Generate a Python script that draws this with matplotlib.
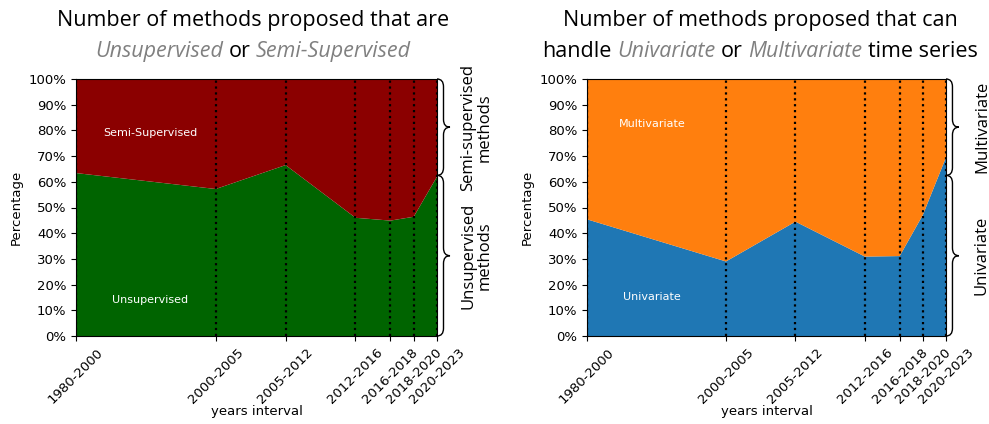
import numpy as np
import matplotlib
matplotlib.use("Agg")
import matplotlib.pyplot as plt
from matplotlib.path import Path
from matplotlib.patches import PathPatch
from matplotlib.ticker import FuncFormatter

# data
intervals = ["1980-2000", "2000-2005", "2005-2012", "2012-2016",
             "2016-2018", "2018-2020", "2020-2023"]
x_pos = [0, 12, 18, 24, 27, 29, 31]

unsupervised = [63.4, 57.2, 66.5, 46.0, 44.9, 46.4, 62.0]
semi_supervised = [100 - v for v in unsupervised]

univariate = [45.4, 29.0, 44.5, 30.9, 31.1, 47.1, 69.5]
multivariate = [100 - v for v in univariate]

brace_split = 62.5

TITLE_FONT = "Open Sans"
GRAY = "#808080"


def draw_brace(ax, y_lo, y_hi, width=0.036, r=0.03):
    """Draw a '}' brace just right of the axes, y given in data units (0-100)."""
    yb, yt = y_lo / 100.0, y_hi / 100.0
    ym = (yb + yt) / 2
    x0 = 1.0
    h = width / 2
    verts = [(x0, yb),
             (x0 + h, yb), (x0 + h, yb + r),
             (x0 + h, ym - r),
             (x0 + h, ym), (x0 + width, ym),
             (x0 + h, ym), (x0 + h, ym + r),
             (x0 + h, yt - r),
             (x0 + h, yt), (x0, yt)]
    codes = [Path.MOVETO,
             Path.CURVE3, Path.CURVE3,
             Path.LINETO,
             Path.CURVE3, Path.CURVE3,
             Path.CURVE3, Path.CURVE3,
             Path.LINETO,
             Path.CURVE3, Path.CURVE3]
    patch = PathPatch(Path(verts, codes), fill=False, lw=1.0, ec="black",
                      transform=ax.transAxes, clip_on=False)
    ax.add_patch(patch)


def rich_line(fig, pieces, cx, y, size):
    """Centered line of text made of pieces with their own style/colour."""
    renderer = fig.canvas.get_renderer()
    texts = []
    for s, style, color in pieces:
        t = fig.text(0, y, s, fontsize=size, family=TITLE_FONT, style=style,
                     color=color, ha="left", va="baseline",
                     transform=fig.transFigure)
        texts.append(t)
    widths = [t.get_window_extent(renderer).width for t in texts]
    space = fig.text(0, 0, "a a", fontsize=size, family=TITLE_FONT)
    sp = space.get_window_extent(renderer).width
    space.set_text("aa")
    sp -= space.get_window_extent(renderer).width
    space.remove()
    W = fig.bbox.width
    total = sum(widths) + sp * (len(texts) - 1)
    x = cx * W - total / 2
    for t, w in zip(texts, widths):
        t.set_x(x / W)
        x += w + sp


def stacked_panel(ax, lower, upper, c_low, c_up, lab_low, lab_up, lab_pos):
    ax.stackplot(x_pos, lower, upper, colors=[c_low, c_up])
    for xp in x_pos:
        ax.axvline(xp, color="black", ls=":", lw=1.6, zorder=3)
    ax.set_xlim(x_pos[0], x_pos[-1])
    ax.set_ylim(0, 100)
    ax.set_yticks(np.arange(0, 101, 10))
    ax.yaxis.set_major_formatter(FuncFormatter(lambda v, p: f"{int(v)}%"))
    ax.set_xticks(x_pos)
    ax.set_xticklabels(intervals, rotation=45)
    ax.tick_params(labelsize=9.5)
    ax.set_ylabel("Percentage", fontsize=9.5)
    ax.set_xlabel("years interval", fontsize=9.5, labelpad=-1)
    (xl, yl), (xu, yu) = lab_pos
    ax.text(xl, yl, lab_low, color="white", fontsize=8, ha="center", va="center")
    ax.text(xu, yu, lab_up, color="white", fontsize=8, ha="center", va="center")


fig = plt.figure(figsize=(9.89, 4.24), dpi=100)
ax1 = fig.add_axes([76 / 989, 88 / 424, 361 / 989, 257 / 424])
ax2 = fig.add_axes([587 / 989, 88 / 424, 359 / 989, 257 / 424])

stacked_panel(ax1, unsupervised, semi_supervised, "#006400", "#8b0000",
              "Unsupervised", "Semi-Supervised", [(6.35, 14), (6.35, 79)])
stacked_panel(ax2, univariate, multivariate, "#1f77b4", "#ff7f0e",
              "Univariate", "Multivariate", [(5.6, 15.2), (5.6, 82.5)])

for ax in (ax1, ax2):
    draw_brace(ax, 0, brace_split)
    draw_brace(ax, brace_split, 100)

brace_fs = 12
ax1.text(1.11, brace_split / 200, "Unsupervised\nmethods", rotation=90,
         transform=ax1.transAxes, ha="center", va="center", fontsize=brace_fs,
         family=TITLE_FONT, linespacing=1.05)
ax1.text(1.11, (brace_split + 100) / 200, "Semi-supervised\nmethods", rotation=90,
         transform=ax1.transAxes, ha="center", va="center", fontsize=brace_fs,
         family=TITLE_FONT, linespacing=1.05)
ax2.text(1.10, brace_split / 200, "Univariate", rotation=90,
         transform=ax2.transAxes, ha="center", va="center", fontsize=brace_fs,
         family=TITLE_FONT)
ax2.text(1.10, (brace_split + 100) / 200, "Multivariate", rotation=90,
         transform=ax2.transAxes, ha="center", va="center", fontsize=brace_fs,
         family=TITLE_FONT)

fig.canvas.draw()
title_fs = 15.5
rich_line(fig, [("Number of methods proposed that are", "normal", "black")],
          253 / 989, 1 - 26 / 424, title_fs)
rich_line(fig, [("Unsupervised", "italic", GRAY), ("or", "normal", "black"),
                ("Semi-Supervised", "italic", GRAY)],
          253 / 989, 1 - 57 / 424, title_fs)
rich_line(fig, [("Number of methods proposed that can", "normal", "black")],
          760 / 989, 1 - 26 / 424, title_fs)
rich_line(fig, [("handle", "normal", "black"), ("Univariate", "italic", GRAY),
                ("or", "normal", "black"), ("Multivariate", "italic", GRAY),
                ("time series", "normal", "black")],
          760 / 989, 1 - 57 / 424, title_fs)

fig.savefig("out.png", dpi=100)
